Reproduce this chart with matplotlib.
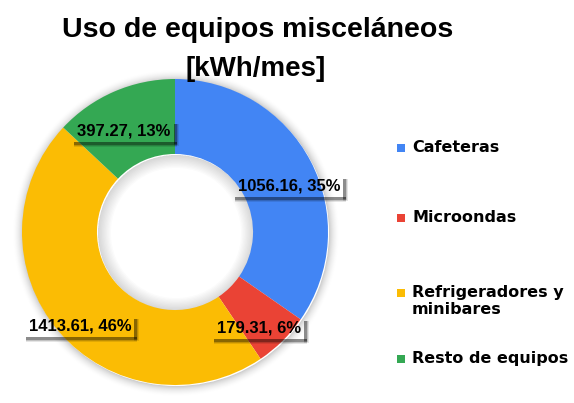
import matplotlib
matplotlib.use("Agg")
import matplotlib.pyplot as plt
from matplotlib.patches import Wedge, Rectangle

categories = ["Cafeteras", "Microondas", "Refrigeradores y\nminibares", "Resto de equipos"]
values = [1056.16, 179.31, 1413.61, 397.27]
percents = ["35%", "6%", "46%", "13%"]
colors = ["#4285F4", "#EA4335", "#FBBC04", "#34A853"]

W, H = 574, 403
fig = plt.figure(figsize=(W / 100, H / 100), dpi=100)
ax = fig.add_axes([0, 0, 1, 1])

cx, cy, R = 175, H - 232, 153
ring_w = R * 0.49
r_in = R - ring_w

# soft glow around the ring (outside and inside the hole)
n = 10
for i in range(1, n + 1):
    a = 0.022
    ax.add_patch(Wedge((cx + 1, cy - 1), R + i, 0, 360, width=i, fc="black",
                       ec="none", alpha=a * (n + 1 - i) / n * 1.6, zorder=0))
    ax.add_patch(Wedge((cx + 1, cy - 1), r_in, 0, 360, width=i * 1.3, fc="black",
                       ec="none", alpha=a * 0.7, zorder=0))

wedges, _ = ax.pie(values, colors=colors, startangle=90, counterclock=False,
                   radius=R, center=(cx, cy), frame=True,
                   wedgeprops=dict(width=ring_w, edgecolor="none", zorder=1))
ax.set_xlim(0, W)
ax.set_ylim(0, H)
ax.axis("off")

font = "Liberation Sans"
label_pos = [(289, H - 186), (259, H - 328), (80, H - 326), (124, H - 131)]
texts = []
for v, p, (x, y) in zip(values, percents, label_pos):
    t = ax.text(x, y, f"{v:.2f}, {p}", ha="center", va="center", fontsize=12,
                fontweight="bold", family=font, color="black", zorder=5)
    texts.append(t)

fig.text(258 / W, 1 - 37 / H, "Uso de equipos misceláneos", ha="center", va="baseline",
         fontsize=20.5, fontweight="bold", family=font)
fig.text(256 / W, 1 - 76 / H, "[kWh/mes]", ha="center", va="baseline",
         fontsize=20, fontweight="bold", family=font)

leg_font = "DejaVu Sans"
leg_y = [148, 218, 293, 359]
for cat, c, y in zip(categories, colors, leg_y):
    ax.add_patch(Rectangle((397, H - y - 4), 8, 8, fc=c, ec="none"))
    if "\n" in cat:
        ax.text(412, H - y + 8, cat, ha="left", va="top", fontsize=11.5,
                fontweight="bold", family=leg_font, linespacing=1.15)
    else:
        ax.text(412, H - y, cat, ha="left", va="center", fontsize=11.5,
                fontweight="bold", family=leg_font)

# shadows of the label boxes (bottom and right edges)
fig.canvas.draw()
r = fig.canvas.get_renderer()
inv = ax.transData.inverted()
for t in texts:
    bb = t.get_window_extent(r)
    (x0, y0), (x1, y1) = inv.transform([(bb.x0 - 6, bb.y0 - 3), (bb.x1 + 3, bb.y1 + 2)])
    off = 3
    for k, al in [(5, 0.10), (4, 0.15), (3, 0.28)]:
        ax.add_patch(Rectangle((x0 + off, y0 - k), x1 - x0, k, fc="black", ec="none",
                               alpha=al, zorder=4))
        ax.add_patch(Rectangle((x1, y0 - k + 0.01), k, y1 - y0 - off + k, fc="black",
                               ec="none", alpha=al, zorder=4))

fig.savefig("out.png", dpi=100)
